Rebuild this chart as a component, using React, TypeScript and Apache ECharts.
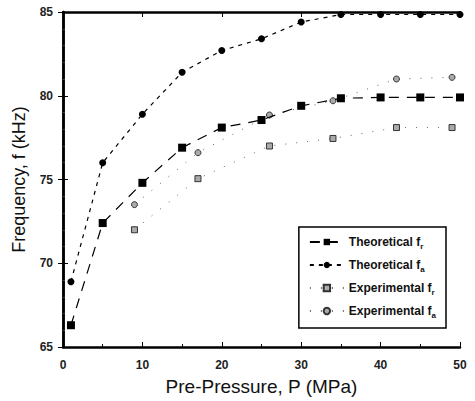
import React, { useEffect, useRef } from "react";
import * as echarts from "echarts";

const theoX = [1, 5, 10, 15, 20, 25, 30, 35, 40, 45, 50];
const theoFr = [66.3, 72.4, 74.8, 76.9, 78.1, 78.55, 79.4, 79.85, 79.9, 79.9, 79.9];
const theoFa = [68.9, 76.0, 78.9, 81.4, 82.7, 83.4, 84.4, 84.85, 84.85, 84.85, 84.85];
const expX = [9, 17, 26, 34, 42, 49];
const expFr = [72.0, 75.05, 77.0, 77.45, 78.1, 78.1];
const expFa = [73.5, 76.6, 78.85, 79.7, 81.0, 81.1];
const xTicks = [0, 10, 20, 30, 40, 50];
const yTicks = [65, 70, 75, 80, 85];

const names = ["Theoretical fr", "Theoretical fa", "Experimental fr", "Experimental fa"];
const labels: Record<string, string> = {
  "Theoretical fr": "Theoretical f{sub|r}",
  "Theoretical fa": "Theoretical f{sub|a}",
  "Experimental fr": "Experimental f{sub|r}",
  "Experimental fa": "Experimental f{sub|a}",
};

const pair = (xs: number[], ys: number[]) => xs.map((x, i) => [x, ys[i]]);

export default function App() {
  const ref = useRef<HTMLDivElement>(null);
  useEffect(() => {
    if (!ref.current) return;
    const chart = echarts.init(ref.current, undefined, { renderer: "svg" });
    const font = "Liberation Sans, Arial, sans-serif";
    const axisCommon = {
      axisLine: { show: true, lineStyle: { color: "#000", width: 2.5 } },
      splitLine: { show: false },
    };
    chart.setOption({
      animation: false,
      backgroundColor: "#fff",
      grid: { left: 63, right: 15, top: 12, bottom: 54, show: false },
      xAxis: [
        {
          type: "value",
          min: xTicks[0],
          max: xTicks[xTicks.length - 1],
          interval: 10,
          name: "Pre-Pressure, P (MPa)",
          nameLocation: "middle",
          nameGap: 30,
          nameTextStyle: { fontFamily: font, fontSize: 19, color: "#111" },
          axisLabel: { fontFamily: font, fontSize: 12, fontWeight: "bold", color: "#222", margin: 12 },
          axisTick: { inside: true, length: 5, lineStyle: { color: "#000" } },
          minorTick: { show: true, splitNumber: 2, length: 3, lineStyle: { color: "#000" } },
          ...axisCommon,
        },
        {
          type: "value",
          position: "top",
          min: xTicks[0],
          max: xTicks[xTicks.length - 1],
          interval: 10,
          axisLabel: { show: false },
          axisTick: { inside: true, length: 5, lineStyle: { color: "#000" } },
          ...axisCommon,
        },
      ],
      yAxis: [
        {
          type: "value",
          min: yTicks[0],
          max: yTicks[yTicks.length - 1],
          interval: 5,
          name: "Frequency, f (kHz)",
          nameLocation: "middle",
          nameGap: 35,
          nameTextStyle: { fontFamily: font, fontSize: 18, color: "#111" },
          axisLabel: { fontFamily: font, fontSize: 12, fontWeight: "bold", color: "#222", margin: 10 },
          axisTick: { inside: true, length: 5, lineStyle: { color: "#000" } },
          minorTick: { show: true, splitNumber: 5, length: 2, lineStyle: { color: "#444" } },
          ...axisCommon,
        },
        {
          type: "value",
          position: "right",
          min: yTicks[0],
          max: yTicks[yTicks.length - 1],
          interval: 5,
          axisLabel: { show: false },
          axisTick: { inside: true, length: 5, lineStyle: { color: "#000" } },
          ...axisCommon,
        },
      ],
      legend: {
        data: names,
        orient: "vertical",
        right: 29,
        top: 227,
        width: 147,
        itemWidth: 34,
        itemHeight: 8,
        itemGap: 9,
        padding: [9, 10, 9, 10],
        borderColor: "#000",
        borderWidth: 1.5,
        backgroundColor: "#fff",
        formatter: (n: string) => labels[n],
        textStyle: {
          fontFamily: font,
          fontSize: 12,
          fontWeight: "bold",
          color: "#111",
          rich: {
            sub: { fontSize: 8, fontFamily: font, verticalAlign: "bottom", padding: [8, 0, 0, 0] },
          },
        },
      },
      series: [
        {
          name: names[0],
          type: "line",
          data: pair(theoX, theoFr),
          symbol: "rect",
          symbolSize: 8,
          itemStyle: { color: "#000" },
          lineStyle: { color: "#000", width: 1.2, type: [10, 8] },
          z: 3,
        },
        {
          name: names[1],
          type: "line",
          data: pair(theoX, theoFa),
          symbol: "circle",
          symbolSize: 7,
          itemStyle: { color: "#000" },
          lineStyle: { color: "#000", width: 1.2, type: [4, 5] },
          z: 3,
        },
        {
          name: names[2],
          type: "line",
          data: pair(expX, expFr),
          symbol: "rect",
          symbolSize: 6,
          itemStyle: { color: "#aaa", borderColor: "#333", borderWidth: 1 },
          lineStyle: { color: "#666", width: 1, type: [1, 10] },
          z: 2,
        },
        {
          name: names[3],
          type: "line",
          data: pair(expX, expFa),
          symbol: "circle",
          symbolSize: 6,
          itemStyle: { color: "#aaa", borderColor: "#333", borderWidth: 1 },
          lineStyle: { color: "#666", width: 1, type: [1, 10] },
          z: 2,
        },
      ],
    });
    return () => chart.dispose();
  }, []);
  return <div ref={ref} style={{ width: 475, height: 401, position: "absolute", left: 0, top: 0 }} />;
}
